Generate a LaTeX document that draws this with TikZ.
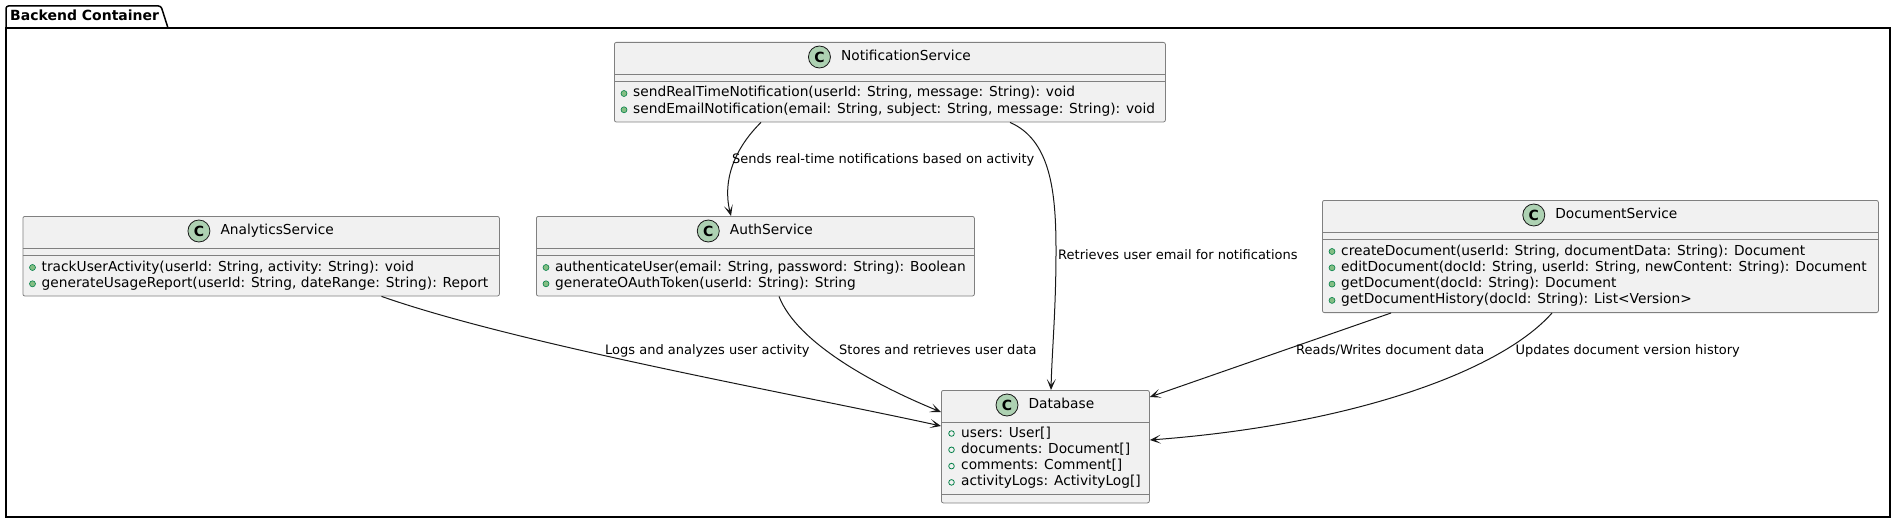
\documentclass[tikz,border=0pt]{standalone}
\usepackage{fontspec}
\setmainfont{DejaVu Sans}
\usetikzlibrary{arrows.meta,positioning}
\definecolor{umlline}{HTML}{181818}
\definecolor{umlborder}{HTML}{808080}
\definecolor{umlbg}{HTML}{F1F1F1}
\definecolor{spotgreen}{HTML}{ADD1B2}
\definecolor{methgreen}{HTML}{84BE84}
\definecolor{visgreen}{HTML}{038048}

\begin{document}
\begin{tikzpicture}[x=1pt,y=-1pt,
    classbox/.style={draw=umlborder, fill=umlbg, line width=0.8pt, rounded corners=2pt, inner sep=0pt, anchor=north west},
    sepline/.style={draw=umlborder, line width=0.8pt},
    spot/.style={circle, draw=umlline, fill=spotgreen, line width=0.8pt, minimum size=22pt, inner sep=0pt, font=\bfseries\fontsize{14}{14}\selectfont},
    cname/.style={inner sep=0pt, text height=10pt, text depth=3pt, font=\fontsize{13.75}{16}\selectfont},
    member/.style={anchor=west, inner sep=0pt, text height=10pt, text depth=3pt, font=\fontsize{13.75}{16}\selectfont},
    methdot/.style={draw=visgreen, fill=methgreen, line width=0.6pt},
    fielddot/.style={draw=visgreen, line width=0.8pt},
    elabel/.style={anchor=west, inner sep=0pt, text height=9.3pt, text depth=2.8pt, font=\fontsize{13}{15}\selectfont},
    edge/.style={draw=umlline, line width=1pt, -{Stealth[length=11pt,width=9pt,inset=6pt]}},
    pkgline/.style={draw=black, line width=1.5pt}]

    \path[fill=white, use as bounding box] (0,0) rectangle (1900,524);

    \draw[pkgline, rounded corners=2.5pt] (6,28) -- (6,6) -- (161,6) -- (168,28);
    \draw[pkgline] (6,28) rectangle (1890,517);
    \node[cname, anchor=west, font=\bfseries\fontsize{14}{16}\selectfont] (pkgname) at (10,17.5) {Backend Container};

    \node[classbox, minimum width=551pt, minimum height=79.6pt] (notif) at (614,42) {};
    \node[cname] (notifname) at ([xshift=16pt,yshift=-15pt]notif.north) {NotificationService};
    \node[spot, left=10pt of notifname] (notifspot) {C};
    \draw[sepline] ([yshift=-32pt]notif.north west) -- ([yshift=-32pt]notif.north east);
    \draw[sepline] ([yshift=-39pt]notif.north west) -- ([yshift=-39pt]notif.north east);
    \filldraw[methdot] ([xshift=10pt,yshift=-51.5pt]notif.north west) circle (3pt);
    \filldraw[methdot] ([xshift=10pt,yshift=-67.8pt]notif.north west) circle (3pt);
    \node[member] (notifm1) at ([xshift=19pt,yshift=-51.5pt]notif.north west) {sendRealTimeNotification(userId: String, message: String): void};
    \node[member] (notifm2) at ([xshift=19pt,yshift=-67.8pt]notif.north west) {sendEmailNotification(email: String, subject: String, message: String): void};

    \node[classbox, minimum width=476.5pt, minimum height=79.6pt] (analytics) at (22.5,216) {};
    \node[cname] (analyticsname) at ([xshift=16pt,yshift=-15pt]analytics.north) {AnalyticsService};
    \node[spot, left=10pt of analyticsname] (analyticsspot) {C};
    \draw[sepline] ([yshift=-32pt]analytics.north west) -- ([yshift=-32pt]analytics.north east);
    \draw[sepline] ([yshift=-39pt]analytics.north west) -- ([yshift=-39pt]analytics.north east);
    \filldraw[methdot] ([xshift=10pt,yshift=-51.5pt]analytics.north west) circle (3pt);
    \filldraw[methdot] ([xshift=10pt,yshift=-67.8pt]analytics.north west) circle (3pt);
    \node[member] (analyticsm1) at ([xshift=19pt,yshift=-51.5pt]analytics.north west) {trackUserActivity(userId: String, activity: String): void};
    \node[member] (analyticsm2) at ([xshift=19pt,yshift=-67.8pt]analytics.north west) {generateUsageReport(userId: String, dateRange: String): Report};

    \node[classbox, minimum width=438pt, minimum height=79.6pt] (auth) at (536,216) {};
    \node[cname] (authname) at ([xshift=16pt,yshift=-15pt]auth.north) {AuthService};
    \node[spot, left=10pt of authname] (authspot) {C};
    \draw[sepline] ([yshift=-32pt]auth.north west) -- ([yshift=-32pt]auth.north east);
    \draw[sepline] ([yshift=-39pt]auth.north west) -- ([yshift=-39pt]auth.north east);
    \filldraw[methdot] ([xshift=10pt,yshift=-51.5pt]auth.north west) circle (3pt);
    \filldraw[methdot] ([xshift=10pt,yshift=-67.8pt]auth.north west) circle (3pt);
    \node[member] (authm1) at ([xshift=19pt,yshift=-51.5pt]auth.north west) {authenticateUser(email: String, password: String): Boolean};
    \node[member] (authm2) at ([xshift=19pt,yshift=-67.8pt]auth.north west) {generateOAuthToken(userId: String): String};

    \node[classbox, minimum width=556pt, minimum height=112.2pt] (doc) at (1322,200) {};
    \node[cname] (docname) at ([xshift=16pt,yshift=-15pt]doc.north) {DocumentService};
    \node[spot, left=10pt of docname] (docspot) {C};
    \draw[sepline] ([yshift=-32pt]doc.north west) -- ([yshift=-32pt]doc.north east);
    \draw[sepline] ([yshift=-39pt]doc.north west) -- ([yshift=-39pt]doc.north east);
    \filldraw[methdot] ([xshift=10pt,yshift=-51.5pt]doc.north west) circle (3pt);
    \filldraw[methdot] ([xshift=10pt,yshift=-67.8pt]doc.north west) circle (3pt);
    \filldraw[methdot] ([xshift=10pt,yshift=-84.1pt]doc.north west) circle (3pt);
    \filldraw[methdot] ([xshift=10pt,yshift=-100.4pt]doc.north west) circle (3pt);
    \node[member] (docm1) at ([xshift=19pt,yshift=-51.5pt]doc.north west) {createDocument(userId: String, documentData: String): Document};
    \node[member] (docm2) at ([xshift=19pt,yshift=-67.8pt]doc.north west) {editDocument(docId: String, userId: String, newContent: String): Document};
    \node[member] (docm3) at ([xshift=19pt,yshift=-84.1pt]doc.north west) {getDocument(docId: String): Document};
    \node[member] (docm4) at ([xshift=19pt,yshift=-100.4pt]doc.north west) {getDocumentHistory(docId: String): List<Version>};

    \node[classbox, minimum width=208pt, minimum height=112.5pt] (db) at (941,390) {};
    \node[cname] (dbname) at ([xshift=16pt,yshift=-15pt]db.north) {Database};
    \node[spot, left=10pt of dbname] (dbspot) {C};
    \draw[sepline] ([yshift=-32pt]db.north west) -- ([yshift=-32pt]db.north east);
    \draw[sepline] ([yshift=-104.5pt]db.north west) -- ([yshift=-104.5pt]db.north east);
    \draw[fielddot] ([xshift=10.5pt,yshift=-43.5pt]db.north west) circle (2.8pt);
    \draw[fielddot] ([xshift=10.5pt,yshift=-59.8pt]db.north west) circle (2.8pt);
    \draw[fielddot] ([xshift=10.5pt,yshift=-76.1pt]db.north west) circle (2.8pt);
    \draw[fielddot] ([xshift=10.5pt,yshift=-92.4pt]db.north west) circle (2.8pt);
    \node[member] (dbf1) at ([xshift=20pt,yshift=-43.5pt]db.north west) {users: User[]};
    \node[member] (dbf2) at ([xshift=20pt,yshift=-59.8pt]db.north west) {documents: Document[]};
    \node[member] (dbf3) at ([xshift=20pt,yshift=-76.1pt]db.north west) {comments: Comment[]};
    \node[member] (dbf4) at ([xshift=20pt,yshift=-92.4pt]db.north west) {activityLogs: ActivityLog[]};

    \draw[edge] ([xshift=147pt]notif.south west) .. controls (735,148) and (722,180) .. ([xshift=195pt]auth.north west);
    \draw[edge] ([xshift=396pt]notif.south west) .. controls (1050,140) and (1056,190) .. (1056,250) .. controls (1056,310) and (1052,350) .. ([xshift=110pt]db.north west);
    \draw[edge] ([xshift=359pt]analytics.south west) .. controls (520,345) and (800,395) .. ([yshift=-36pt]db.north west);
    \draw[edge] ([xshift=243pt]auth.south west) .. controls (797,343) and (875,385) .. ([yshift=-22pt]db.north west);
    \draw[edge] ([xshift=69pt]doc.south west) -- ([yshift=-7pt]db.north east);
    \draw[edge] ([xshift=230pt]doc.south west) .. controls (1500,372) and (1350,425) .. ([yshift=-50pt]db.north east);

    \node[elabel] (lblsends) at (732,160) {Sends real-time notifications based on activity};
    \node[elabel] (lblemail) at (1058,256) {Retrieves user email for notifications};
    \node[elabel] (lbllogs) at (605,351) {Logs and analyzes user activity};
    \node[elabel] (lblstores) at (839,351) {Stores and retrieves user data};
    \node[elabel] (lblreads) at (1296,351) {Reads/Writes document data};
    \node[elabel] (lblupdates) at (1515.5,351) {Updates document version history};
\end{tikzpicture}
\end{document}
